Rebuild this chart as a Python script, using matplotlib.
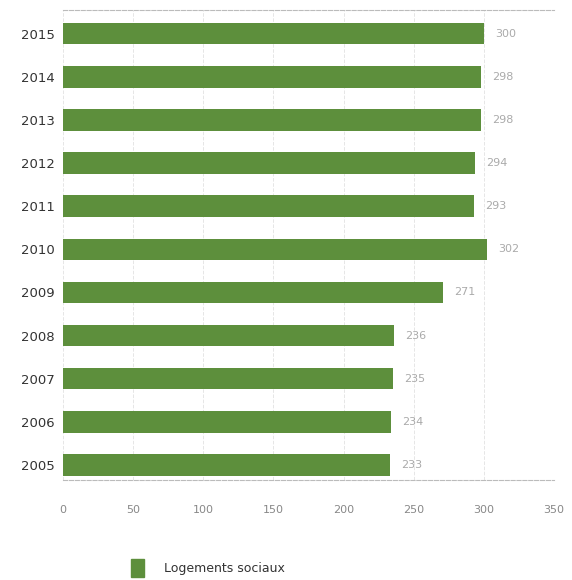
import matplotlib.pyplot as plt
from matplotlib.patches import Patch

years = ["2005", "2006", "2007", "2008", "2009", "2010",
         "2011", "2012", "2013", "2014", "2015"]
values = [233, 234, 235, 236, 271, 302, 293, 294, 298, 298, 300]
x_ticks = [0, 50, 100, 150, 200, 250, 300, 350]

GREEN = "#5d8f3c"

fig = plt.figure(figsize=(5.72, 5.80), dpi=100)
ax = fig.add_axes([63 / 572, 1 - 480 / 580, (554 - 63) / 572, 470 / 580])

y = list(range(len(years)))
ax.barh(y, values, height=0.5, color=GREEN, zorder=2)

for yi, v in zip(y, values):
    ax.annotate(f"{v}", (v, yi), textcoords="offset points", xytext=(8, 0),
                va="center", ha="left", fontsize=8, color="#aaaaaa")

ax.set_xlim(0, 350)
ax.set_ylim(-0.35, 10.55)
ax.set_xticks(x_ticks)
ax.set_xticklabels([str(t) for t in x_ticks], fontsize=8, color="#888888")
ax.set_yticks(y)
ax.set_yticklabels(years, fontsize=9.5, color="#333333")
ax.tick_params(axis="both", length=0)
ax.tick_params(axis="x", pad=18)
ax.tick_params(axis="y", pad=6)

ax.grid(axis="x", color="#e6e6e6", linestyle="--", linewidth=0.7, zorder=0)
for side in ("left", "right"):
    ax.spines[side].set_visible(False)
for side in ("top", "bottom"):
    ax.spines[side].set_color("#bbbbbb")
    ax.spines[side].set_linestyle("--")
    ax.spines[side].set_linewidth(0.8)

fig.legend(handles=[Patch(color=GREEN, label="Logements sociaux")],
           loc="center left", bbox_to_anchor=(120 / 572, 1 - 568 / 580),
           frameon=False, fontsize=9, handlelength=1.0, handleheight=1.8,
           handletextpad=1.6, labelcolor="#333333")

fig.savefig("out.png", dpi=100)
